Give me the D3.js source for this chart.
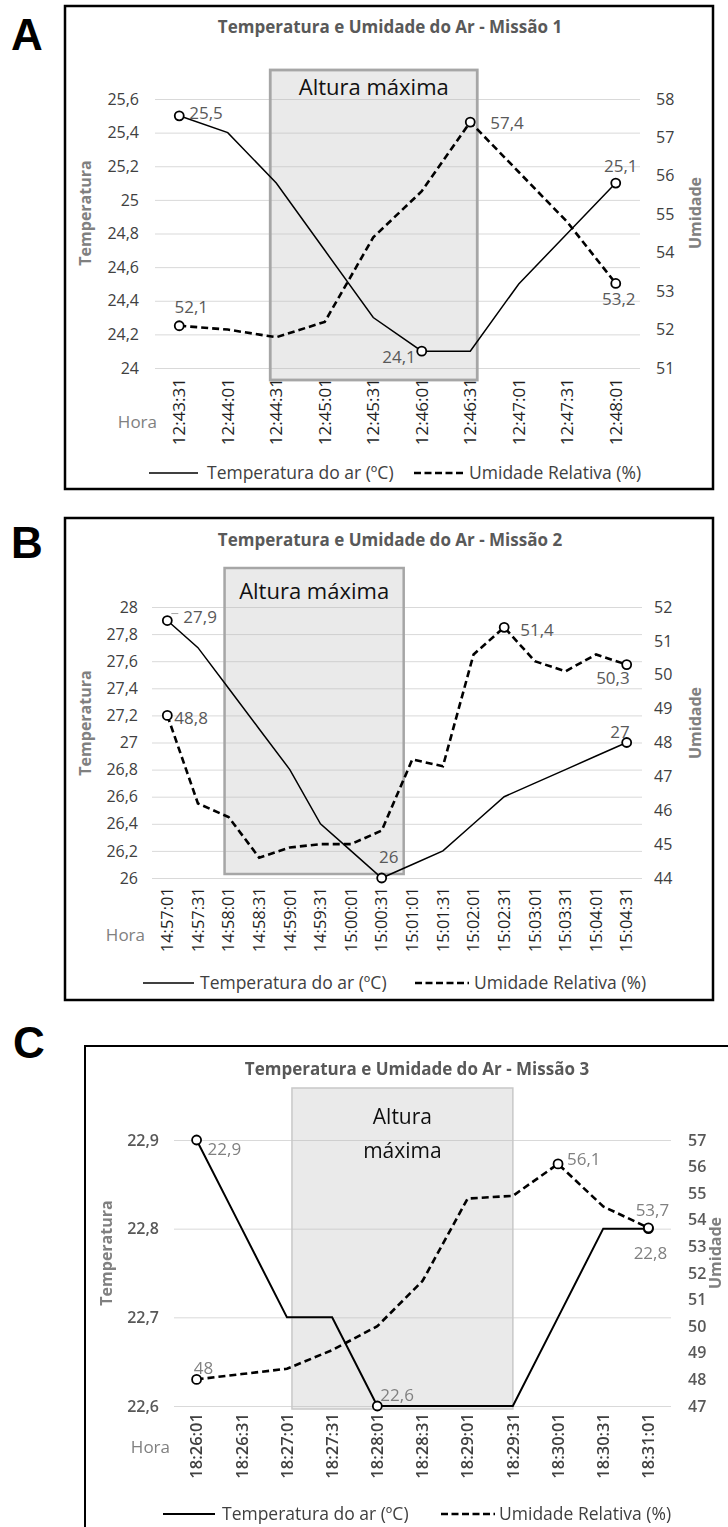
<!DOCTYPE html>
<html>
<head>
<meta charset="utf-8">
<script src="https://cdn.jsdelivr.net/npm/d3@7"></script>
<style>
  body { margin: 0; background: #fff; }
  svg { display: block; font-family: 'Open Sans', sans-serif; }
</style>
</head>
<body>
<svg id="viz" width="728" height="1527"></svg>
<script>

// Missão 1
var horaA = ['12:43:31','12:44:01','12:44:31','12:45:01','12:45:31','12:46:01','12:46:31','12:47:01','12:47:31','12:48:01']
var tempA = [25.5, 25.4, 25.1, 24.7, 24.3, 24.1, 24.1, 24.5, 24.8, 25.1]
var umidA = [52.1, 52.0, 51.8, 52.2, 54.4, 55.6, 57.4, 56.1, 54.8, 53.2]
var tempTicksA = [24, 24.2, 24.4, 24.6, 24.8, 25, 25.2, 25.4, 25.6]
var umidTicksA = [51, 52, 53, 54, 55, 56, 57, 58]

// Missão 2
var horaB = ['14:57:01','14:57:31','14:58:01','14:58:31','14:59:01','14:59:31','15:00:01','15:00:31',
             '15:01:01','15:01:31','15:02:01','15:02:31','15:03:01','15:03:31','15:04:01','15:04:31']
var tempB = [27.9, 27.7, 27.4, 27.1, 26.8, 26.4, 26.2, 26.0, 26.1, 26.2, 26.4, 26.6, 26.7, 26.8, 26.9, 27.0]
var umidB = [48.8, 46.2, 45.8, 44.6, 44.9, 45.0, 45.0, 45.4, 47.5, 47.3, 50.6, 51.4, 50.4, 50.1, 50.6, 50.3]
var tempTicksB = [26, 26.2, 26.4, 26.6, 26.8, 27, 27.2, 27.4, 27.6, 27.8, 28]
var umidTicksB = [44, 45, 46, 47, 48, 49, 50, 51, 52]

// Missão 3
var horaC = ['18:26:01','18:26:31','18:27:01','18:27:31','18:28:01','18:28:31','18:29:01','18:29:31','18:30:01','18:30:31','18:31:01']
var tempC = [22.9, 22.8, 22.7, 22.7, 22.6, 22.6, 22.6, 22.6, 22.7, 22.8, 22.8]
var umidC = [48.0, 48.2, 48.4, 49.1, 50.0, 51.7, 54.8, 54.9, 56.1, 54.5, 53.7]
var tempTicksC = [22.6, 22.7, 22.8, 22.9]
var umidTicksC = [47, 48, 49, 50, 51, 52, 53, 54, 55, 56, 57]

var legendaTemp = 'Temperatura do ar (ºC)'
var legendaUmid = 'Umidade Relativa (%)'

var svg = d3.select('svg#viz')

svg.append('defs').append('filter').attr('id', 'blur')
  .append('feGaussianBlur').attr('stdDeviation', 0.45)

function fmt(v) {
  return String(+v.toFixed(1)).replace('.', ',')
}

function drawPanel(p) {
  // panel letter sits outside the blurred group
  svg.append('text')
    .attr('x', p.letterX).attr('y', p.letterY)
    .text(p.letter)
    .style('font-family', "'Liberation Sans', Arial, sans-serif")
    .style('font-weight', 'bold')
    .style('font-size', '44px')

  var g = svg.append('g')
  if (p.blur) g.attr('filter', 'url(#blur)')

  g.append('rect')
    .attr('x', p.box[0]).attr('y', p.box[1])
    .attr('width', p.box[2] - p.box[0]).attr('height', p.box[3] - p.box[1])
    .attr('fill', '#fff').attr('stroke', '#000').attr('stroke-width', p.boxStroke)

  var x = d3.scaleBand().domain(p.hora).range([p.left, p.right])
  var bw = x.bandwidth()
  var cx = function(i) { return x(p.hora[i]) + bw / 2 }
  var yT = d3.scaleLinear().domain(p.tempDomain).range([p.bottom, p.top])
  var yU = d3.scaleLinear().domain(p.umidDomain).range([p.bottom, p.top])

  // gridlines from the left axis
  g.append('g')
    .attr('transform', 'translate(' + p.left + ',0)')
    .call(d3.axisLeft(yT).tickValues(p.tempTicks).tickSize(-(p.right - p.left)).tickFormat(''))
    .call(function(a) { a.select('.domain').remove() })
    .selectAll('line').attr('stroke', '#d9d9d9').attr('stroke-width', 1)

  var left = g.append('g')
    .attr('transform', 'translate(' + p.left + ',0)')
    .call(d3.axisLeft(yT).tickValues(p.tempTicks).tickSize(0).tickPadding(p.padL).tickFormat(fmt))
  var right = g.append('g')
    .attr('transform', 'translate(' + p.right + ',0)')
    .call(d3.axisRight(yU).tickValues(p.umidTicks).tickSize(0).tickPadding(p.padR).tickFormat(fmt))
  var bottom = g.append('g')
    .attr('transform', 'translate(0,' + p.bottom + ')')
    .call(d3.axisBottom(x).tickSize(0))

  ;[left, right, bottom].forEach(function(a) {
    a.attr('font-family', null).attr('font-size', null)
    a.select('.domain').remove()
    a.selectAll('text')
      .style('fill', p.tickColor)
      .style('font-weight', p.tickWeight)
  })
  left.selectAll('text').style('font-size', p.tickSize + 'px')
  right.selectAll('text').style('font-size', p.tickSize + 'px')
  bottom.selectAll('text')
    .attr('transform', 'rotate(-90)')
    .attr('x', -p.xGap).attr('y', 0).attr('dy', '0.35em')
    .attr('text-anchor', 'end')
    .style('fill', p.xTickColor)
    .style('font-size', p.xTickSize + 'px')

  // "Altura máxima" box, drawn over the tick labels like in the original
  var rx0 = cx(p.hora.indexOf(p.rectFrom)) + p.rectDx[0]
  var rx1 = cx(p.hora.indexOf(p.rectTo)) + p.rectDx[1]
  g.append('rect')
    .attr('x', rx0).attr('y', p.rectY[0])
    .attr('width', rx1 - rx0).attr('height', p.rectY[1] - p.rectY[0])
    .attr('fill', 'rgba(185,185,185,0.3)')
    .attr('stroke', p.rectStroke).attr('stroke-width', p.rectStrokeW)

  var rt = g.append('text')
    .attr('x', (rx0 + rx1) / 2).attr('y', p.rectTextY)
    .attr('text-anchor', 'middle')
    .style('font-size', p.rectTextSize + 'px')
    .style('fill', '#111')
  p.rectText.forEach(function(t, i) {
    rt.append('tspan').attr('x', (rx0 + rx1) / 2).attr('dy', i == 0 ? 0 : 34).text(t)
  })

  var lineT = d3.line().x(function(d, i) { return cx(i) }).y(function(d) { return yT(d) })
  var lineU = d3.line().x(function(d, i) { return cx(i) }).y(function(d) { return yU(d) })

  g.append('path').datum(p.umid)
    .attr('d', lineU).attr('fill', 'none')
    .attr('stroke', '#000').attr('stroke-width', p.dashW)
    .attr('stroke-dasharray', '7,4')
  g.append('path').datum(p.temp)
    .attr('d', lineT).attr('fill', 'none')
    .attr('stroke', '#000').attr('stroke-width', p.solidW)

  // circles + value labels on first / last / extreme points
  function marks(lbls, values, y) {
    lbls.forEach(function(l) {
      var px = cx(l.i), py = y(values[l.i])
      g.append('circle')
        .attr('cx', px).attr('cy', py).attr('r', 4.5)
        .attr('fill', '#fff').attr('stroke', '#000').attr('stroke-width', 1.8)
      if (l.lead) {
        g.append('line')
          .attr('x1', px + 4).attr('x2', px + 11)
          .attr('y1', py - 7).attr('y2', py - 7)
          .attr('stroke', '#a6a6a6').attr('stroke-width', 1)
      }
      g.append('text')
        .attr('x', px + l.dx).attr('y', py + l.dy)
        .attr('dy', '0.35em')
        .attr('text-anchor', l.anchor)
        .text(fmt(values[l.i]))
        .style('font-size', p.labelSize + 'px')
        .style('fill', p.labelColor)
    })
  }
  marks(p.tempLabels, p.temp, yT)
  marks(p.umidLabels, p.umid, yU)

  // axis titles
  g.append('text')
    .attr('transform', 'translate(' + p.tempTitle[0] + ',' + p.tempTitle[1] + ') rotate(-90)')
    .attr('text-anchor', 'middle').attr('dy', '0.35em')
    .text('Temperatura')
    .style('font-weight', 'bold').style('font-size', '16px').style('fill', '#808080')
  g.append('text')
    .attr('transform', 'translate(' + p.umidTitle[0] + ',' + p.umidTitle[1] + ') rotate(-90)')
    .attr('text-anchor', 'middle').attr('dy', '0.35em')
    .text('Umidade')
    .style('font-weight', 'bold').style('font-size', '16px').style('fill', '#808080')
  g.append('text')
    .attr('x', p.hora_[0]).attr('y', p.hora_[1]).attr('dy', '0.35em')
    .attr('text-anchor', 'end')
    .text('Hora')
    .style('font-size', '17px').style('fill', '#808080')

  g.append('text')
    .attr('x', p.titleX).attr('y', p.titleY).attr('dy', '0.35em')
    .attr('text-anchor', 'middle')
    .text(p.title)
    .style('font-weight', 'bold').style('font-size', '17px').style('fill', '#595959')

  // legend
  var lg = g.append('g').attr('transform', 'translate(0,' + p.legY + ')')
  lg.append('line').attr('x1', p.leg[0]).attr('x2', p.leg[1])
    .attr('stroke', '#000').attr('stroke-width', p.solidW)
  lg.append('text').attr('x', p.leg[2]).attr('dy', '0.35em').text(legendaTemp)
    .style('font-size', p.legSize + 'px').style('fill', p.legColor)
  lg.append('line').attr('x1', p.leg[3]).attr('x2', p.leg[4])
    .attr('stroke', '#000').attr('stroke-width', p.dashW).attr('stroke-dasharray', '7,3.5')
  lg.append('text').attr('x', p.leg[5]).attr('dy', '0.35em').text(legendaUmid)
    .style('font-size', p.legSize + 'px').style('fill', p.legColor)
}

drawPanel({
  letter: 'A', letterX: 11, letterY: 50,
  box: [65, 6, 713, 489], boxStroke: 2.5,
  title: 'Temperatura e Umidade do Ar - Missão 1', titleX: 390, titleY: 27,
  hora: horaA, temp: tempA, umid: umidA,
  tempTicks: tempTicksA, umidTicks: umidTicksA,
  tempDomain: [24, 25.6], umidDomain: [51, 58],
  left: 155, right: 640, top: 99, bottom: 368,
  padL: 16, padR: 16, xGap: 10,
  tickColor: '#404040', tickWeight: 'normal', tickSize: 16,
  xTickColor: '#1f1f1f', xTickSize: 17,
  rectFrom: '12:44:31', rectTo: '12:46:31', rectDx: [-6, 7], rectY: [70, 380],
  rectStroke: '#a6a6a6', rectStrokeW: 2.8,
  rectText: ['Altura máxima'], rectTextY: 95, rectTextSize: 22,
  solidW: 1.5, dashW: 2.6,
  labelSize: 17, labelColor: '#595959',
  tempLabels: [{i: 0, dx: 10, dy: -3, anchor: 'start'},
               {i: 5, dx: -6, dy: 6, anchor: 'end'},
               {i: 9, dx: 5, dy: -17, anchor: 'middle'}],
  umidLabels: [{i: 0, dx: 12, dy: -19, anchor: 'middle'},
               {i: 6, dx: 20, dy: 1, anchor: 'start'},
               {i: 9, dx: 3, dy: 16, anchor: 'middle'}],
  tempTitle: [85, 213], umidTitle: [695, 213], hora_: [157, 422],
  legY: 473, leg: [149, 198, 207, 414, 464, 469], legSize: 17.5, legColor: '#404040'
})

drawPanel({
  letter: 'B', letterX: 11, letterY: 558,
  box: [65, 518, 713, 1000], boxStroke: 2.5,
  title: 'Temperatura e Umidade do Ar - Missão 2', titleX: 390, titleY: 540,
  hora: horaB, temp: tempB, umid: umidB,
  tempTicks: tempTicksB, umidTicks: umidTicksB,
  tempDomain: [26, 28], umidDomain: [44, 52],
  left: 152, right: 642, top: 607, bottom: 878,
  padL: 14, padR: 12, xGap: 9,
  tickColor: '#404040', tickWeight: 'normal', tickSize: 16,
  xTickColor: '#1f1f1f', xTickSize: 16.5,
  rectFrom: '14:58:01', rectTo: '15:00:31', rectDx: [-4, 22], rectY: [568, 874],
  rectStroke: '#a6a6a6', rectStrokeW: 2.5,
  rectText: ['Altura máxima'], rectTextY: 599, rectTextSize: 22,
  solidW: 1.5, dashW: 2.6,
  labelSize: 17, labelColor: '#595959',
  tempLabels: [{i: 0, dx: 16, dy: -4, anchor: 'start', lead: true},
               {i: 7, dx: 7, dy: -21, anchor: 'middle'},
               {i: 15, dx: 3, dy: -10, anchor: 'end'}],
  umidLabels: [{i: 0, dx: 7, dy: 3, anchor: 'start'},
               {i: 11, dx: 16, dy: 3, anchor: 'start'},
               {i: 15, dx: 3, dy: 13, anchor: 'end'}],
  tempTitle: [85, 723], umidTitle: [695, 723], hora_: [145, 935],
  legY: 983, leg: [143, 194, 200, 415, 469, 474], legSize: 17.5, legColor: '#404040'
})

drawPanel({
  letter: 'C', letterX: 13, letterY: 1058,
  box: [85, 1046, 760, 1560], boxStroke: 2,
  title: 'Temperatura e Umidade do Ar - Missão 3', titleX: 417, titleY: 1069,
  hora: horaC, temp: tempC, umid: umidC,
  tempTicks: tempTicksC, umidTicks: umidTicksC,
  tempDomain: [22.6, 22.9], umidDomain: [47, 57],
  left: 174, right: 671, top: 1140, bottom: 1406,
  padL: 15, padR: 17, xGap: 7,
  tickColor: '#595959', tickWeight: 600, tickSize: 16,
  xTickColor: '#404040', xTickSize: 16.5,
  rectFrom: '18:27:01', rectTo: '18:29:31', rectDx: [5, 0], rectY: [1088, 1409],
  rectStroke: '#c8c8c8', rectStrokeW: 1.5,
  rectText: ['Altura', 'máxima'], rectTextY: 1124, rectTextSize: 21,
  solidW: 2, dashW: 2.6,
  labelSize: 17, labelColor: '#808080', blur: true,
  tempLabels: [{i: 0, dx: 11, dy: 9, anchor: 'start'},
               {i: 4, dx: 3, dy: -11, anchor: 'start'},
               {i: 10, dx: 2, dy: 24, anchor: 'middle'}],
  umidLabels: [{i: 0, dx: 7, dy: -11, anchor: 'middle'},
               {i: 8, dx: 9, dy: -5, anchor: 'start'},
               {i: 10, dx: 4, dy: -18, anchor: 'middle'}],
  tempTitle: [106, 1253], umidTitle: [715, 1253], hora_: [170, 1447],
  legY: 1514, leg: [163, 215, 222, 441, 495, 499], legSize: 17.5, legColor: '#404040'
})

</script>
</body>
</html>
